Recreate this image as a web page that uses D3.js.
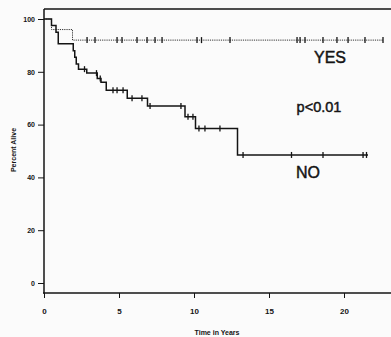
<!DOCTYPE html>
<html><head><meta charset="utf-8">
<script src="https://cdn.jsdelivr.net/npm/d3@7"></script>
<style>html,body{margin:0;padding:0;background:#fbfbfb;}svg{display:block;}</style>
</head><body>
<svg id="c" width="391" height="337"></svg>
<script>
// Data
const yTicks = [0, 20, 40, 60, 80, 100];
const xTicks = [0, 5, 10, 15, 20];
// Kaplan-Meier steps: [time in years, percent alive]
const noSteps = [[0,100],[0.5,97.5],[0.8,95],[0.95,90.6],[1.95,88],[2.05,85.5],[2.15,83],[2.3,81],[2.85,79.5],[3.55,77.5],[3.8,76],[4.15,73],[5.55,70],[6.9,67],[9.4,63],[10.1,58.5],[12.9,48.5]];
const noEnd = 21.6;
const noCensor = [2.7,3.5,3.75,4.6,4.87,5.27,5.87,6.53,7.07,9.13,9.6,9.93,10.33,10.73,11.73,13.27,16.5,18.6,21.27,21.5];
const yesSteps = [[0,100],[0.5,96],[1.9,92]];
const yesEnd = 22.6;
const yesCensor = [2.87,3.4,4.87,5.2,6.2,6.87,7.4,7.87,10.2,10.5,12.4,16.87,17.07,17.4,18.6,19.53,20.27,21.4,22.6];

const svg = d3.select("#c");
const x = d3.scaleLinear().domain([0,20]).range([44,344]);
const y = d3.scaleLinear().domain([0,100]).range([283,19]);
const font = "'Liberation Sans', Arial, sans-serif";
const ink = "#141414";

// frame lines
svg.append("line").attr("x1",44).attr("x2",391).attr("y1",9).attr("y2",9).attr("stroke",ink).attr("stroke-width",1.4);
svg.append("line").attr("x1",44).attr("x2",44).attr("y1",9).attr("y2",293.5).attr("stroke",ink).attr("stroke-width",1.5);
svg.append("line").attr("x1",43).attr("x2",391).attr("y1",293).attr("y2",293).attr("stroke",ink).attr("stroke-width",1.5);

// axes
const yAx = svg.append("g").attr("transform","translate(44,0)")
  .call(d3.axisLeft(y).tickValues(yTicks).tickSize(6).tickPadding(3));
yAx.select(".domain").remove();
yAx.selectAll("text").attr("font-family",font).attr("font-size",7).attr("font-weight","bold").attr("fill",ink);
yAx.selectAll("line").attr("stroke",ink).attr("stroke-width",1);

const xAx = svg.append("g").attr("transform","translate(0,293)")
  .call(d3.axisBottom(x).tickValues(xTicks).tickSize(5).tickPadding(10));
xAx.select(".domain").remove();
xAx.selectAll("text").attr("font-family",font).attr("font-size",8).attr("font-weight","bold").attr("fill",ink);
xAx.selectAll("line").attr("stroke",ink).attr("stroke-width",1);

svg.append("text").attr("x",217).attr("y",335).attr("text-anchor","middle")
  .attr("font-family",font).attr("font-size",7).attr("font-weight","bold").attr("fill",ink).text("Time in Years");
svg.append("text").attr("transform","translate(16,150) rotate(-90)").attr("text-anchor","middle")
  .attr("font-family",font).attr("font-size",7).attr("font-weight","bold").attr("fill",ink).text("Percent Alive");

function stepPath(steps, end){
  const pts = [];
  steps.forEach((s,i)=>{
    if(i>0) pts.push([s[0], steps[i-1][1]]);
    pts.push(s);
  });
  pts.push([end, steps[steps.length-1][1]]);
  return d3.line().x(d=>x(d[0])).y(d=>y(d[1]))(pts);
}
function survAt(steps, t){
  let v = steps[0][1];
  steps.forEach(s=>{ if(s[0]<=t) v=s[1]; });
  return v;
}

// YES (dotted)
svg.append("path").attr("d",stepPath(yesSteps,yesEnd)).attr("fill","none")
  .attr("stroke","#333").attr("stroke-width",1).attr("stroke-dasharray","1.2,1");
svg.selectAll(".yc").data(yesCensor).enter().append("line")
  .attr("x1",d=>x(d)).attr("x2",d=>x(d))
  .attr("y1",d=>y(survAt(yesSteps,d))-3).attr("y2",d=>y(survAt(yesSteps,d))+3)
  .attr("stroke",ink).attr("stroke-width",1.3);

// NO (solid)
svg.append("path").attr("d",stepPath(noSteps,noEnd)).attr("fill","none")
  .attr("stroke",ink).attr("stroke-width",1.5);
svg.selectAll(".nc").data(noCensor).enter().append("line")
  .attr("x1",d=>x(d)).attr("x2",d=>x(d))
  .attr("y1",d=>y(survAt(noSteps,d))-3).attr("y2",d=>y(survAt(noSteps,d))+3)
  .attr("stroke",ink).attr("stroke-width",1.3);

// annotations
function label(t, cx, by, size){
  svg.append("text").attr("x",cx).attr("y",by).attr("text-anchor","middle")
    .attr("font-family",font).attr("font-size",size).attr("fill",ink)
    .attr("stroke",ink).attr("stroke-width",0.45).text(t);
}
label("YES", 330, 63, 16);
label("p<0.01", 319, 112, 14.5);
label("NO", 308, 178, 16);
</script>
</body></html>
